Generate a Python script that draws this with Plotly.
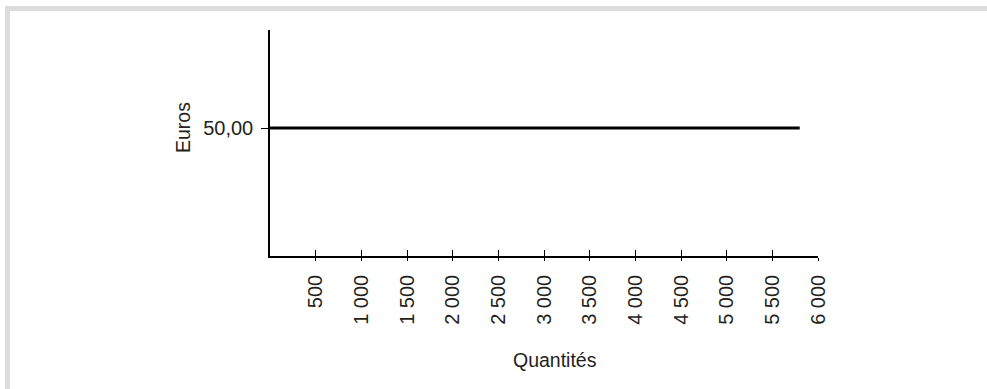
import plotly.graph_objects as go

# Data
quantities = [0, 5800]
prix = [50, 50]
x_tickvals = [500, 1000, 1500, 2000, 2500, 3000, 3500, 4000, 4500, 5000, 5500, 6000]
x_ticktext = ["500", "1 000", "1 500", "2 000", "2 500", "3 000", "3 500",
              "4 000", "4 500", "5 000", "5 500", "6 000"]
y_tickvals = [50]
y_ticktext = ["50,00"]
x_title = "Quantités"
y_title = "Euros"

W, H = 987, 389
L, R, T, B = 270, 169, 30, 133
PW, PH = W - L - R, H - T - B

def px_x(p):
    return (p - L) / PW

def px_y(p):
    return (H - B - p) / PH

FONT = "Liberation Sans, Arial, Helvetica, sans-serif"
TXT = "#231f20"

fig = go.Figure()
fig.add_trace(go.Scatter(x=quantities, y=prix, mode="lines",
                         line=dict(color="#000000", width=3),
                         hoverinfo="skip", showlegend=False))
# invisible trace for overlaying axis carrying inner tick marks
fig.add_trace(go.Scatter(x=quantities, y=prix, xaxis="x2", mode="lines",
                         line=dict(color="rgba(0,0,0,0)", width=0),
                         hoverinfo="skip", showlegend=False))

fig.update_layout(
    width=W, height=H,
    margin=dict(l=L, r=R, t=T, b=B, pad=0),
    paper_bgcolor="white", plot_bgcolor="white",
    font=dict(family=FONT, size=20, color=TXT),
    showlegend=False,
    xaxis=dict(range=[0, 6000], showgrid=False, zeroline=False,
               showline=True, linecolor="#000", linewidth=1.5,
               tickmode="array", tickvals=x_tickvals, ticktext=x_ticktext,
               ticks="outside", ticklen=3, tickwidth=1.3, tickcolor="#000",
               tickangle=-90, ticklabelstandoff=6,
               tickfont=dict(family=FONT, size=20, color=TXT)),
    xaxis2=dict(range=[0, 6000], overlaying="x", anchor="y", side="bottom",
                showgrid=False, zeroline=False, showline=False,
                tickmode="array", tickvals=x_tickvals, showticklabels=False,
                ticks="inside", ticklen=6, tickwidth=1.3, tickcolor="#000"),
    yaxis=dict(range=[0, 88.3], showgrid=False, zeroline=False,
               showline=True, linecolor="#000", linewidth=1.5,
               tickmode="array", tickvals=y_tickvals, ticktext=y_ticktext,
               ticks="outside", ticklen=7, tickwidth=1.3, tickcolor="#000",
               ticklabelstandoff=4,
               tickfont=dict(family=FONT, size=20, color=TXT)),
    annotations=[
        dict(text=y_title, xref="paper", yref="paper", x=px_x(183), y=px_y(128),
             xanchor="center", yanchor="middle", textangle=-90, showarrow=False,
             font=dict(family=FONT, size=19.5, color=TXT)),
        dict(text=x_title, xref="paper", yref="paper", x=px_x(555), y=px_y(360),
             xanchor="center", yanchor="middle", showarrow=False,
             font=dict(family=FONT, size=19.5, color=TXT)),
    ],
    shapes=[
        dict(type="rect", xref="paper", yref="paper", layer="below",
             x0=px_x(5), x1=px_x(987), y0=px_y(11), y1=px_y(6),
             fillcolor="#dcdcdc", line=dict(width=0)),
        dict(type="rect", xref="paper", yref="paper", layer="below",
             x0=px_x(5), x1=px_x(10), y0=px_y(389), y1=px_y(6),
             fillcolor="#dcdcdc", line=dict(width=0)),
    ],
)

fig.write_html("out.html", config={"displayModeBar": False},
               post_script="document.body.style.margin='0';document.body.style.overflow='hidden';")
